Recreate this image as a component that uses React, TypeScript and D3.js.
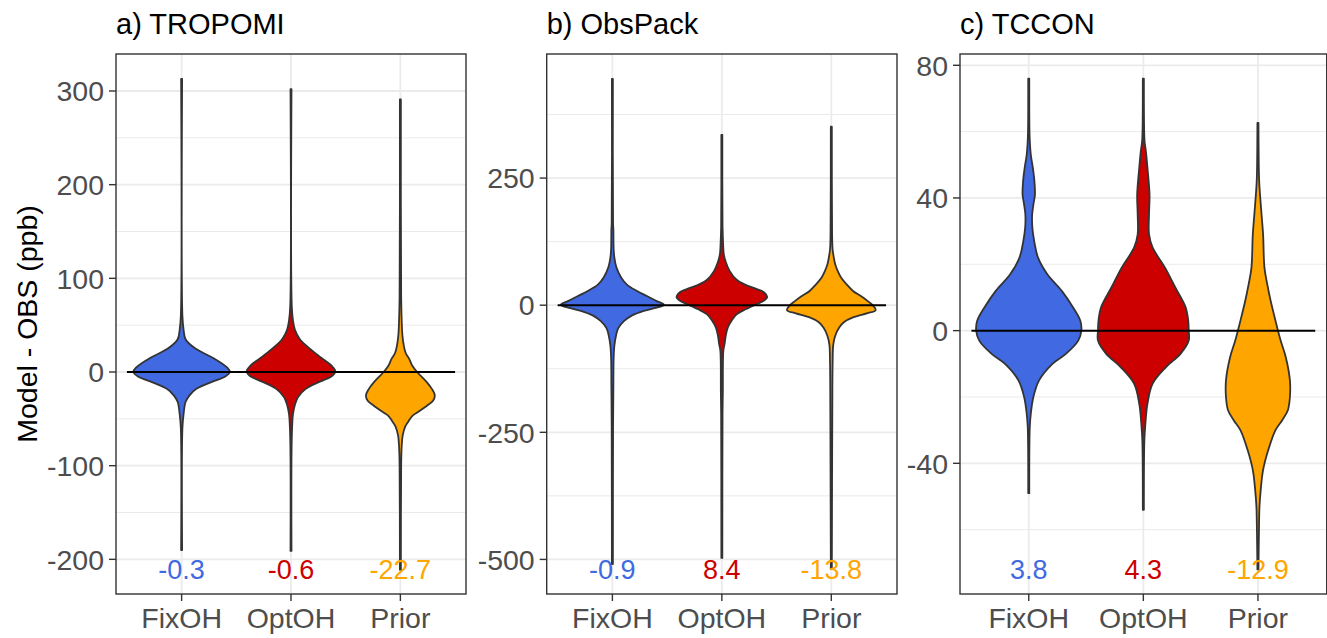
import * as d3 from 'd3';
import React from 'react';

// groups and colours
const groups = ['FixOH', 'OptOH', 'Prior'];
const groupColors = ['#4169E1', '#CD0000', '#FFA500'];

const panelTitles = ['a) TROPOMI', 'b) ObsPack', 'c) TCCON'];
const panelDomains = [[-237, 339.5], [-568, 494], [-79.4, 83.4]];
const panelTicks = [[-200, -100, 0, 100, 200, 300], [-500, -250, 0, 250], [-40, 0, 40, 80]];
const panelMinor = [[-150, -50, 50, 150, 250], [-375, -125, 125, 375], [-60, -20, 20, 60]];

// mean bias labels
const tropomiMeans = [-0.3, -0.6, -22.7];
const obspackMeans = [-0.9, 8.4, -13.8];
const tcconMeans = [3.8, 4.3, -12.9];

// violin outlines: [value (ppb), half width]
const tropomiFix = [[313, 0.5], [60, 0.8], [45, 2], [35, 4], [25, 14], [15, 32], [5, 46], [0, 49], [-5, 44], [-10, 32], [-18, 15], [-25, 8], [-32, 4], [-45, 2], [-60, 0.8], [-190, 0.5]];
const tropomiOpt = [[302, 0.5], [70, 0.8], [55, 2], [45, 4], [35, 9], [25, 19], [15, 31], [7, 41], [1, 45], [-4, 42], [-10, 30], [-18, 15], [-27, 7], [-35, 4], [-45, 2], [-70, 0.8], [-191, 0.5]];
const tropomiPrior = [[291, 0.5], [80, 0.8], [50, 1.5], [40, 2], [28, 3.5], [20, 5.5], [14, 9], [7, 12], [0, 17], [-11, 27], [-18, 32], [-25, 35], [-31, 33], [-36, 27], [-42, 19], [-47, 12], [-53, 8], [-58, 5], [-68, 2.3], [-80, 1.3], [-100, 0.8], [-211, 0.5]];

const obspackFix = [[445, 0.5], [160, 0.7], [150, 1], [110, 1.3], [94, 2], [75, 4], [54, 9], [40, 15], [28, 25], [18, 35], [8, 45], [2, 52], [0, 52], [-5, 45], [-11, 32], [-20, 20], [-31, 12], [-45, 6], [-57, 4], [-80, 2], [-103, 1.3], [-165, 1], [-240, 0.7], [-509, 0.5]];
const obspackOpt = [[335, 0.5], [155, 0.7], [125, 1.2], [100, 2], [85, 4], [67, 8], [50, 15], [41, 23], [32, 35], [25, 43], [16, 46], [8, 42], [2, 35], [-8, 24], [-18, 15], [-30, 10], [-44, 6], [-60, 4], [-77, 2.7], [-90, 1.5], [-172, 1], [-214, 0.7], [-497, 0.5]];
const obspackPrior = [[351, 0.5], [140, 0.8], [110, 1.3], [94, 2.5], [80, 4], [65, 7], [54, 10], [40, 16], [28, 22], [18, 30], [8, 37], [0, 42], [-10, 45], [-16, 36], [-24, 22], [-33, 13], [-44, 8], [-60, 4], [-77, 2], [-116, 1.3], [-208, 1], [-519, 0.5]];

const tcconFix = [[76, 0.5], [60, 0.7], [56, 1.2], [53, 2], [49, 4], [45, 5.5], [41, 6], [38, 4.5], [35, 3.3], [31, 3.5], [27, 5.3], [22, 9], [17, 18], [12, 32], [7, 43], [3, 50], [0, 51], [-3, 48], [-7, 36], [-10, 23], [-15, 10], [-20, 4.5], [-25, 2], [-29, 1], [-49, 0.5]];
const tcconOpt = [[76, 0.5], [62, 0.7], [57, 1.2], [54, 2.5], [49, 4], [41, 6], [35, 5.5], [29, 5.5], [25, 9], [19, 21], [13, 31], [7, 41], [3, 43.5], [0, 44], [-3, 44], [-7, 36], [-11, 22], [-16, 9], [-22, 4], [-28, 2], [-33, 1], [-54, 0.5]];
const tcconPrior = [[62.6, 0.5], [50, 0.8], [45, 1.2], [41, 2], [35, 3.5], [29, 5], [19, 6.3], [14, 9], [9, 12.3], [3, 17], [-3, 22], [-8, 27], [-15, 31], [-20, 31], [-24, 29], [-27, 23.5], [-30, 17], [-36, 10], [-42, 5], [-48, 2.7], [-53, 1.5], [-60, 1], [-72, 0.5]];

const panelViolins = [
  [tropomiFix, tropomiOpt, tropomiPrior],
  [obspackFix, obspackOpt, obspackPrior],
  [tcconFix, tcconOpt, tcconPrior],
];
const panelMeans = [tropomiMeans, obspackMeans, tcconMeans];

const W = 1327;
const H = 638;
const panelLefts = [116, 546.7, 960];
const panelRights = [466, 897, 1326.7];
const top = 54;
const bottom = 594;
const font = 'Liberation Sans, Arial, sans-serif';
// plain hyphen for negatives, like R prints them
const fmt = (v: number) => v.toFixed(1);

function Panel({ idx }: { idx: number }) {
  const left = panelLefts[idx];
  const right = panelRights[idx];
  const x = d3.scalePoint().domain(groups).range([left, right]).padding(0.6);
  const y = d3.scaleLinear().domain(panelDomains[idx]).range([bottom, top]);
  const step = x.step();
  const w = d3.scaleLinear().domain([0, 50]).range([0, 0.45 * step]);

  return (
    <g>
      <text x={left} y={34} fontSize={29} fontFamily={font} fill="#000">{panelTitles[idx]}</text>
      <rect x={left} y={top} width={right - left} height={bottom - top} fill="#fff" />
      {panelMinor[idx].map(v => (
        <line key={'mi' + v} x1={left} x2={right} y1={y(v)} y2={y(v)} stroke="#EBEBEB" strokeWidth={1} />
      ))}
      {panelTicks[idx].map(v => (
        <line key={'ma' + v} x1={left} x2={right} y1={y(v)} y2={y(v)} stroke="#EBEBEB" strokeWidth={1.8} />
      ))}
      {groups.map(g => (
        <line key={'vg' + g} x1={x(g)} x2={x(g)} y1={top} y2={bottom} stroke="#EBEBEB" strokeWidth={1.8} />
      ))}
      {panelViolins[idx].map((prof, i) => {
        const cx = x(groups[i]) as number;
        const area = d3.area<number[]>()
          .y(d => y(d[0]))
          .x0(d => cx - w(d[1]))
          .x1(d => cx + w(d[1]))
          .curve(d3.curveCatmullRom.alpha(0.5));
        return (
          <path key={'v' + i} d={area(prof) || ''} fill={groupColors[i]} stroke="#333333" strokeWidth={1.8} strokeLinejoin="round" />
        );
      })}
      <line x1={x(groups[0])! - 0.5 * step} x2={x(groups[2])! + 0.5 * step} y1={y(0)} y2={y(0)} stroke="#000" strokeWidth={2} />
      {panelMeans[idx].map((m, i) => (
        <text key={'m' + i} x={x(groups[i])} y={bottom - 15} textAnchor="middle" fontSize={27} fontFamily={font} fill={groupColors[i]}>{fmt(m)}</text>
      ))}
      <rect x={left} y={top} width={right - left} height={bottom - top} fill="none" stroke="#333333" strokeWidth={1.4} />
      {panelTicks[idx].map(v => (
        <g key={'t' + v}>
          <line x1={left - 7} x2={left} y1={y(v)} y2={y(v)} stroke="#333333" strokeWidth={1.4} />
          <text x={left - 12} y={y(v)} dy="0.36em" textAnchor="end" fontSize={28.5} fontFamily={font} fill="#4D4D4D">{v}</text>
        </g>
      ))}
      {groups.map(g => (
        <g key={'xt' + g}>
          <line x1={x(g)} x2={x(g)} y1={bottom} y2={bottom + 7} stroke="#333333" strokeWidth={1.4} />
          <text x={x(g)} y={628} textAnchor="middle" fontSize={28.5} fontFamily={font} fill="#4D4D4D">{g}</text>
        </g>
      ))}
    </g>
  );
}

export default function App() {
  return (
    <svg width={W} height={H} style={{ position: 'absolute', left: 0, top: 0, background: '#fff' }}>
      <rect width={W} height={H} fill="#fff" />
      {[0, 1, 2].map(i => <Panel key={i} idx={i} />)}
      <text transform={`translate(36.5,324) rotate(-90)`} textAnchor="middle" fontSize={28.5} fontFamily={font} fill="#000">Model - OBS (ppb)</text>
    </svg>
  );
}
